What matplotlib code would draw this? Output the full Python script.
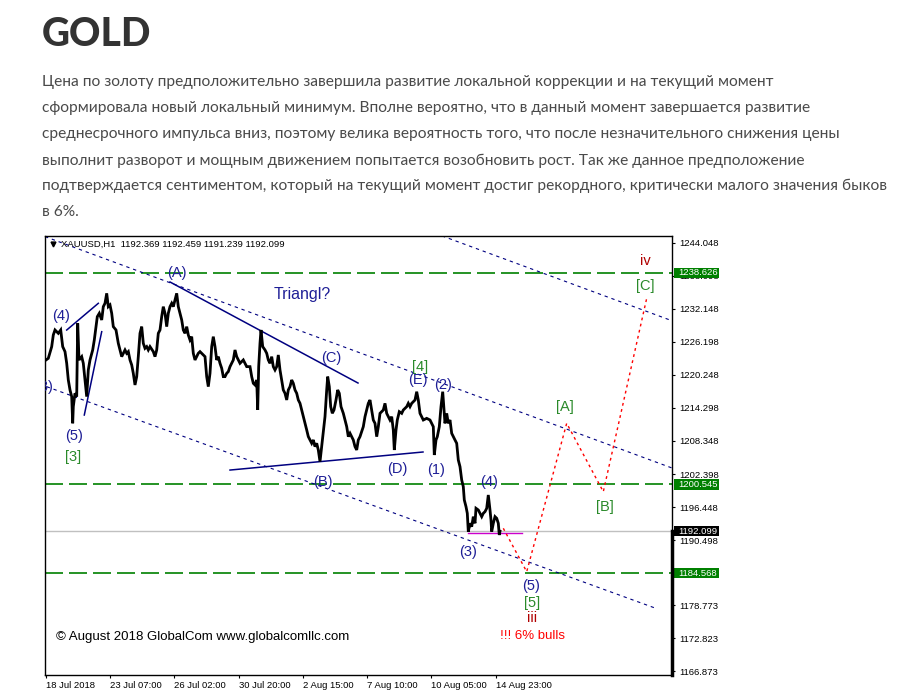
import matplotlib
matplotlib.use("Agg")
import matplotlib.pyplot as plt
import matplotlib.transforms as mtransforms
from matplotlib.patches import Rectangle

plt.rcParams['font.family'] = ['Liberation Sans', 'DejaVu Sans']

# ---- page text ----
title = "GOLD"
paragraph = [
    "Цена по золоту предположительно завершила развитие локальной коррекции и на текущий момент",
    "сформировала новый локальный минимум. Вполне вероятно, что в данный момент завершается развитие",
    "среднесрочного импульса вниз, поэтому велика вероятность того, что после незначительного снижения цены",
    "выполнит разворот и мощным движением попытается возобновить рост. Так же данное предположение",
    "подтверждается сентиментом, который на текущий момент достиг рекордного, критически малого значения быков",
    "в 6%.",
]

# ---- XAUUSD H1 price path (bar index, price) ----
bars = [1, 3.3, 6.7, 8.3, 10, 13.3, 15.7, 17.7, 20, 21.7, 23.3, 25, 26.7, 27.7, 28.3, 30, 31.7, 32.7, 34,
        36.7, 38.3, 40, 41.7, 43.3, 45, 47.7, 49.3, 51, 52.3, 54.3, 56.7, 58.3, 60, 61.7, 63.3, 65, 66.7,
        68.3, 71, 73.3, 75, 76.7, 80, 81.7, 83.3, 85, 86.7, 88.3, 90, 91.7, 93.3, 95, 96.7, 98.3, 100,
        101.7, 103.3, 105, 108.3, 110, 111.7, 113.3, 115, 116.7, 118.3, 120, 121.7, 123.3, 125, 126.7,
        128.3, 130, 131.7, 133.3, 135, 136.7, 138.3, 140, 141.7, 143.3, 145, 146.7, 148.3, 150, 151.7,
        153.3, 155, 158.3, 160, 161.7, 163.3, 165, 166.7, 168.3, 170, 171.7, 173.3, 175, 176.7, 178.3,
        180, 181.7, 183.3, 185, 186.7, 188.3, 190, 191.7, 193.3, 195, 198.3, 201.7, 205, 206.7, 208.3,
        210, 211.7, 212.7, 213.7, 215, 216, 217.7, 220, 221.7, 223.3, 225, 226.7, 228.3, 230, 231.7,
        233.3, 235, 236.7, 238.3, 240, 241.7, 243.3, 245, 246.7, 248.3, 250, 251.7, 253.3, 255, 256.7,
        258.3, 260, 261.7, 263.3, 265, 266.7, 268.3, 270, 271.7, 273.3, 275, 276.7, 278.3, 280, 281.7,
        282.7, 284.3, 285.7, 287.3, 289, 291, 292.7, 294.3, 296, 298.3, 300, 301.7, 303.3, 305, 306.7,
        308.3, 310, 311.7, 313.3, 315, 318.3, 320, 321.7, 323.3, 325, 326.7, 328.3, 330, 331.7, 333.3,
        335, 338.3, 340, 341.7, 343.3, 345, 346.7, 348.3, 349.3, 351, 352.3, 354.3, 356.7, 358.3, 361.7,
        363.3, 365, 366.7, 370, 371.7, 373.3, 375, 376.7, 378.3, 381.7, 385, 386.7, 388.3, 389.3, 391,
        392.3, 394.3, 396, 397.7, 399, 400, 401.7, 403.3, 405, 406.7, 408.3, 410, 411.7, 413.3, 415,
        416.7, 418.3, 419.3, 421, 422.3, 423.3, 425, 426.7, 428.3, 430, 431, 433.3, 435, 436.7, 438.3,
        440, 441.7, 443.3, 445, 446, 446.7, 448.3, 450, 451.7, 453.3, 454.3, 455]
prices = [1222.93, 1223.23, 1225.33, 1227.43, 1228.33, 1227.73, 1228.33, 1225.33, 1224.43, 1222.33,
          1219.33, 1217.53, 1216.33, 1211.53, 1214.53, 1216.93, 1216.33, 1229.53, 1222.93, 1223.53,
          1222.33, 1219.33, 1216.33, 1221.13, 1222.93, 1224.73, 1226.53, 1228.93, 1230.73, 1231.33,
          1230.13, 1232.53, 1233.13, 1234.93, 1232.53, 1232.83, 1231.33, 1228.93, 1228.33, 1225.93,
          1224.73, 1223.53, 1224.73, 1224.13, 1224.43, 1222.93, 1222.03, 1220.53, 1218.43, 1219.93,
          1223.53, 1227.73, 1228.93, 1225.93, 1225.03, 1225.33, 1224.73, 1225.33, 1224.43, 1223.53,
          1224.73, 1227.73, 1228.33, 1230.73, 1232.53, 1231.33, 1228.93, 1231.33, 1232.53, 1233.13,
          1232.53, 1233.73, 1234.93, 1232.53, 1231.33, 1230.13, 1228.33, 1227.73, 1228.93, 1227.43,
          1226.53, 1227.13, 1224.13, 1222.93, 1223.53, 1224.13, 1224.43, 1223.83, 1223.53, 1219.93,
          1218.13, 1220.53, 1225.33, 1227.13, 1225.33, 1222.93, 1223.53, 1222.33, 1221.43, 1219.93,
          1219.93, 1220.53, 1220.83, 1221.73, 1222.33, 1222.93, 1224.73, 1223.53, 1222.93, 1222.33,
          1222.93, 1221.73, 1221.73, 1219.93, 1218.73, 1218.43, 1219.33, 1213.93, 1221.73, 1225.93,
          1228.33, 1225.33, 1224.73, 1224.13, 1222.93, 1222.33, 1223.53, 1221.73, 1221.13, 1221.73,
          1223.83, 1221.13, 1219.33, 1217.53, 1216.93, 1215.73, 1217.53, 1218.13, 1219.33, 1218.73,
          1217.53, 1216.93, 1215.73, 1215.13, 1213.93, 1212.73, 1211.53, 1210.33, 1209.13, 1208.53,
          1207.93, 1208.53, 1207.33, 1207.93, 1206.73, 1204.63, 1207.33, 1209.73, 1212.73, 1217.53,
          1219.93, 1218.13, 1214.53, 1213.33, 1213.93, 1215.73, 1217.53, 1216.93, 1214.53, 1213.33,
          1212.13, 1210.93, 1209.13, 1209.73, 1209.13, 1208.53, 1207.33, 1206.73, 1208.53, 1209.13,
          1210.92, 1212.72, 1213.92, 1215.12, 1215.72, 1213.92, 1212.12, 1211.52, 1209.12, 1210.92,
          1213.32, 1213.92, 1215.12, 1213.32, 1212.72, 1212.12, 1212.72, 1210.32, 1206.72, 1210.32,
          1212.12, 1213.62, 1213.32, 1213.92, 1214.52, 1215.12, 1214.52, 1215.12, 1215.72, 1217.22,
          1215.72, 1213.32, 1212.72, 1212.12, 1212.42, 1212.12, 1211.52, 1210.92, 1205.82, 1208.52,
          1209.12, 1210.92, 1214.52, 1217.22, 1213.92, 1211.52, 1213.32, 1211.52, 1212.12, 1209.72,
          1209.12, 1208.52, 1207.92, 1204.92, 1203.72, 1201.32, 1200.12, 1197.72, 1196.52, 1195.32,
          1192.02, 1193.52, 1192.92, 1194.72, 1193.52, 1196.22, 1195.92, 1195.32, 1194.72, 1195.32,
          1195.62, 1196.22, 1198.62, 1195.92, 1194.12, 1192.02, 1193.52, 1194.72, 1194.42, 1193.52,
          1191.42, 1192.10]

current_price = 1192.099
levels = [1238.626, 1200.545, 1184.568]

# channel (dotted) and triangle (solid) lines: (bar0, price0, bar1, price1)
channel_lines = [(397, 1245.27, 627, 1229.99),
                 (0, 1245.14, 627, 1203.48),
                 (1.7, 1218.12, 610, 1178.27)]
solid_lines = [(125, 1236.97, 313, 1218.78),
               (185, 1203.11, 378, 1206.36),
               (21.7, 1228.32, 53.3, 1233.13),
               (39.3, 1213.02, 56.7, 1228.02)]
support_line = (423, 477, 1191.72)

# forecast path
fc_bars = [458.3, 481.7, 521.7, 558.3, 601.7]
fc_prices = [1192.62, 1184.81, 1211.53, 1199.21, 1234.03]

# wave labels: (text, bar, price, colour)
NAVY = '#1e1e96'
GREEN = '#2a8a2a'
DRED = '#b00000'
labels = [("(3)", -1, 1218.06, NAVY), ("(4)", 15.7, 1230.85, NAVY), ("(5)", 29, 1209.24, NAVY),
          ("[3]", 28.3, 1205.51, GREEN), ("(A)", 132.3, 1238.53, NAVY), ("(C)", 286.7, 1223.34, NAVY),
          ("[4]", 375, 1221.72, GREEN), ("(E)", 373.3, 1219.32, NAVY), ("(2)", 398.3, 1218.42, NAVY),
          ("(B)", 278.3, 1201.02, NAVY), ("(D)", 352.3, 1203.24, NAVY), ("(1)", 390.7, 1203.12, NAVY),
          ("(4)", 444.3, 1201.02, NAVY), ("(3)", 423.3, 1188.41, NAVY), ("[A]", 520, 1214.41, GREEN),
          ("[B]", 560, 1196.51, GREEN), ("(5)", 485.7, 1182.23, NAVY), ("[5]", 487.3, 1179.22, GREEN),
          ("iii", 487.3, 1176.41, DRED), ("iv", 600, 1240.8, DRED), ("[C]", 600.7, 1236.25, GREEN)]

yticks = [1244.048, 1238.098, 1232.148, 1226.198, 1220.248, 1214.298, 1208.348, 1202.398,
          1196.448, 1190.498, 1184.548, 1178.773, 1172.823, 1166.873]
xticks = [1, 65, 129, 194, 258, 322, 386, 451]
xtick_labels = ['18 Jul 2018', '23 Jul 07:00', '26 Jul 02:00', '30 Jul 20:00',
                '2 Aug 15:00', '7 Aug 10:00', '10 Aug 05:00', '14 Aug 23:00']

fig = plt.figure(figsize=(9, 6.98), dpi=100)
fig.patch.set_facecolor('white')

# header
fig.text(42 / 900, 1 - 46 / 698, title, fontsize=28, fontweight='black', color='#333333',
         family='Lato', va='baseline')
baselines = [86, 112, 138, 164.5, 190.5, 216.5]
for line, yb in zip(paragraph, baselines):
    fig.text(42 / 900, 1 - yb / 698, line, fontsize=11.15, color='#4a4a4a', family='Lato', va='baseline')

ax = fig.add_axes([45 / 900, 1 - 674.5 / 698, 627 / 900, 438.5 / 698])
ax.set_xlim(0, 627)
ax.set_ylim(1166.30, 1245.25)

for lv in levels:
    ax.axhline(lv, color='#008000', lw=1.2, linestyle=(0, (10.8, 3.6)), zorder=2)
ax.axhline(current_price, color='#c0c0c0', lw=1.0, zorder=1)

for b0, p0, b1, p1 in channel_lines:
    ax.plot([b0, b1], [p0, p1], color='#000080', lw=0.8, linestyle=(0, (3, 3.5)), zorder=2)
for b0, p0, b1, p1 in solid_lines:
    ax.plot([b0, b1], [p0, p1], color='#000080', lw=1.1, zorder=2)
ax.plot([support_line[0], support_line[1]], [support_line[2]] * 2, color='#cc00cc', lw=1.0, zorder=2)

ax.plot(bars, prices, color='black', lw=2.0, zorder=3, solid_joinstyle='miter')
ax.plot(fc_bars, fc_prices, color='red', lw=1.0, linestyle=(0, (2, 2.5)), zorder=3)

for txt, b, p, c in labels:
    ax.text(b, p, txt, color=c, fontsize=10.5, ha='center', va='center', zorder=4, clip_on=True)
ax.text(257.5, 1234.63, "Triangl?", color=NAVY, fontsize=11.5, ha='center', va='center')
ax.text(487.7, 1173.23, "!!! 6% bulls", color='red', fontsize=9.5, ha='center', va='center')
ax.text(11, 1173.05, "© August 2018 GlobalCom www.globalcomllc.com", color='black', fontsize=9.5,
        ha='left', va='center')

# chart caption
ax.text(16 / 627, 1 - 8 / 438.5, "XAUUSD,H1  1192.369 1192.459 1191.239 1192.099",
        transform=ax.transAxes, fontsize=6.8, ha='left', va='center')
ax.plot([7.5 / 627], [1 - 7.5 / 438.5], marker='v', color='black', markersize=3.5,
        transform=ax.transAxes, clip_on=False)

# axes styling
for s in ax.spines.values():
    s.set_color('black')
    s.set_linewidth(1.0)
ax.yaxis.tick_right()
ax.set_yticks(yticks)
ax.set_yticklabels(['%.3f' % v for v in yticks])
ax.tick_params(axis='y', direction='out', length=2.5, width=0.8, pad=2.5, labelsize=6.8)
ax.set_xticks(xticks)
ax.set_xticklabels(xtick_labels, ha='left')
ax.tick_params(axis='x', direction='out', length=2.5, width=0.8, pad=2.0, labelsize=6.8)

# price labels on the scale
blend = mtransforms.blended_transform_factory(ax.transAxes, ax.transData)
for lv, fc in [(levels[0], '#008000'), (levels[1], '#008000'), (levels[2], '#008000'),
               (current_price, 'black')]:
    ax.add_patch(Rectangle((1.003, lv - 0.95), 0.072, 1.9, transform=blend, facecolor=fc,
                           edgecolor='none', clip_on=False, zorder=5))
    ax.text(1.0096, lv, '%.3f' % lv, transform=blend, color='white', fontsize=6.8,
            ha='left', va='center', zorder=6, clip_on=False)
ax.plot([627, 627], [1166.30, current_price], color='black', lw=2.5, clip_on=False, zorder=5)

fig.savefig('out.png', dpi=100, facecolor='white')
